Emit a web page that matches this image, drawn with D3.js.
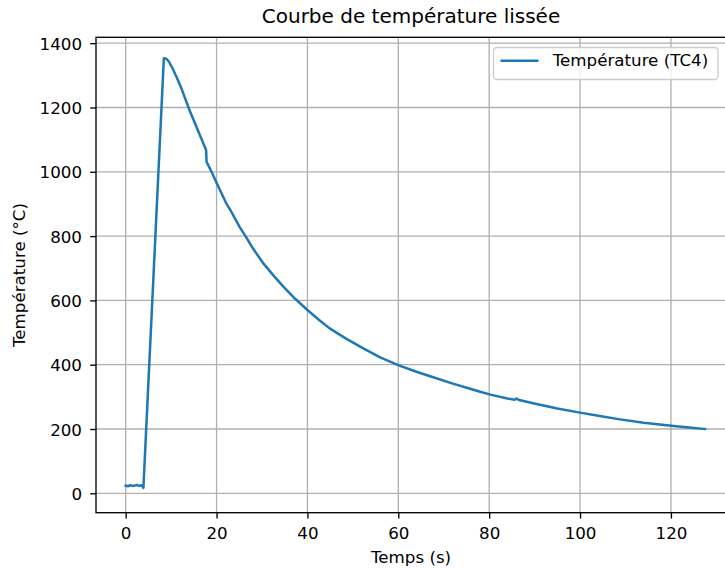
<!DOCTYPE html>
<html>
<head>
<meta charset="utf-8">
<script src="https://cdn.jsdelivr.net/npm/d3@7"></script>
<style>
  html, body { margin: 0; padding: 0; background: #ffffff; }
  svg { display: block; font-family: "DejaVu Sans", sans-serif; }
</style>
</head>
<body>
<svg id="chart" width="725" height="569"></svg>
<script>
// Smoothed TC4 thermocouple reading over time
const timeSeconds = [
  0, 0.5, 1, 1.5, 2, 2.5, 3, 3.5, 3.9,
  8.4, 8.9, 9.5, 10.2, 11.2, 12.3, 14.1, 16.3, 17.7, 17.8, 18.9, 19.9,
  22.2, 23, 25.1, 26.2, 28, 30.3, 32.5, 34.7, 37.3, 40, 42.5, 44.9,
  48.5, 52.3, 56, 60.1, 64, 67, 72, 75.8, 78, 80.3, 84, 85.6, 86, 86.6,
  90.4, 95, 100, 104, 108.8, 114, 120.1, 124, 127.5
];
const temperatureC = [
  24, 22, 25, 23, 24, 26, 23, 25, 17,
  1353, 1352, 1343, 1325, 1295, 1258, 1190, 1115, 1068, 1031, 1000, 969,
  900, 882, 828, 804, 762, 715, 678, 643, 605, 570, 540, 513,
  481, 451, 423, 398, 378, 364, 341, 325, 316, 307, 295, 291, 295, 290,
  278, 264, 251, 241, 230, 219.5, 210, 204.5, 200
];
const xTickValues = [0, 20, 40, 60, 80, 100, 120];
const yTickValues = [0, 200, 400, 600, 800, 1000, 1200, 1400];
const xDomain = [-6.53, 134.1];
const yDomain = [-60.3, 1418.3];

const chartTitle = "Courbe de température lissée";
const xLabel = "Temps (s)";
const yLabel = "Température (°C)";
const seriesName = "Température (TC4)";

const svg = d3.select("#chart");
const plot = { left: 96, right: 735, top: 37.3, bottom: 512.7 };
const lineBlue = "#1f77b4";
const fontSize = 16.7;
const thin = 1.33;

const x = d3.scaleLinear().domain(xDomain).range([plot.left, plot.right]);
const y = d3.scaleLinear().domain(yDomain).range([plot.bottom, plot.top]);

// Grid lines
const grid = svg.append("g");
grid.selectAll(".gx").data(xTickValues).enter().append("line")
  .attr("x1", d => x(d)).attr("x2", d => x(d))
  .attr("y1", plot.top).attr("y2", plot.bottom)
  .attr("stroke", "#b0b0b0").attr("stroke-width", thin);
grid.selectAll(".gy").data(yTickValues).enter().append("line")
  .attr("x1", plot.left).attr("x2", plot.right)
  .attr("y1", d => y(d)).attr("y2", d => y(d))
  .attr("stroke", "#b0b0b0").attr("stroke-width", thin);

// Temperature curve
const line = d3.line().x((d, i) => x(timeSeconds[i])).y(d => y(d));
svg.append("path")
  .datum(temperatureC)
  .attr("d", line)
  .attr("fill", "none")
  .attr("stroke", lineBlue)
  .attr("stroke-width", 2.5)
  .attr("stroke-linejoin", "round")
  .attr("stroke-linecap", "square");

// Axes
const xAxis = d3.axisBottom(x).tickValues(xTickValues).tickSize(5.8).tickPadding(8.6)
  .tickFormat(d3.format("d"));
const yAxis = d3.axisLeft(y).tickValues(yTickValues).tickSize(5.8).tickPadding(8.2)
  .tickFormat(d3.format("d"));

const gx = svg.append("g").attr("transform", `translate(0,${plot.bottom})`).call(xAxis);
const gy = svg.append("g").attr("transform", `translate(${plot.left},0)`).call(yAxis);
[gx, gy].forEach(g => {
  g.select(".domain").remove();
  g.selectAll(".tick line").attr("stroke", "#000").attr("stroke-width", thin);
  g.selectAll(".tick text").attr("fill", "#000")
    .attr("font-size", fontSize).attr("font-family", "DejaVu Sans, sans-serif");
});
gy.selectAll(".tick text").attr("dy", "0.36em");

// Frame
svg.append("rect")
  .attr("x", plot.left).attr("y", plot.top)
  .attr("width", plot.right - plot.left).attr("height", plot.bottom - plot.top)
  .attr("fill", "none").attr("stroke", "#000").attr("stroke-width", thin);

// Titles
svg.append("text")
  .attr("x", (plot.left + plot.right - 9) / 2).attr("y", 23)
  .attr("text-anchor", "middle").attr("font-size", 20).attr("fill", "#000")
  .text(chartTitle);
svg.append("text")
  .attr("x", (plot.left + plot.right - 9) / 2).attr("y", 562.5)
  .attr("text-anchor", "middle").attr("font-size", fontSize).attr("fill", "#000")
  .text(xLabel);
svg.append("text")
  .attr("transform", `translate(25,${(plot.top + plot.bottom) / 2}) rotate(-90)`)
  .attr("text-anchor", "middle").attr("font-size", fontSize).attr("fill", "#000")
  .text(yLabel);

// Legend
const legend = svg.append("g");
legend.append("rect")
  .attr("x", 493.5).attr("y", 47.5).attr("width", 224.5).attr("height", 32)
  .attr("rx", 3.5).attr("fill", "#ffffff").attr("fill-opacity", 0.8)
  .attr("stroke", "#cccccc").attr("stroke-width", thin);
legend.append("line")
  .attr("x1", 500.5).attr("x2", 538.5).attr("y1", 60.7).attr("y2", 60.7)
  .attr("stroke", lineBlue).attr("stroke-width", 2.5);
legend.append("text")
  .attr("x", 552.7).attr("y", 65.7)
  .attr("font-size", fontSize).attr("fill", "#000")
  .text(seriesName);
</script>
</body>
</html>
